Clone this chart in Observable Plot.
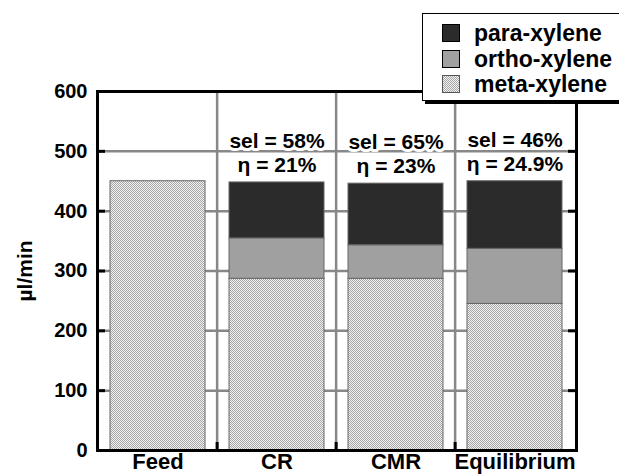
<!DOCTYPE html>
<html>
<head>
<meta charset="utf-8">
<script src="https://cdn.jsdelivr.net/npm/d3@7"></script>
<script src="https://cdn.jsdelivr.net/npm/@observablehq/plot@0.6"></script>
<style>
  html, body { margin: 0; padding: 0; background: #fff; overflow: hidden; }
  #wrap { position: relative; width: 619px; height: 475px; font-family: "Liberation Sans", Arial, sans-serif; font-weight: bold; }
  #legend { position: absolute; left: 422px; top: 13px; width: 210px; height: 88px; background: #fff;
            border: 1px solid #000; box-shadow: 3px 3px 0 #000; box-sizing: border-box; }
  .row { position: absolute; left: 19px; height: 20px; display: flex; align-items: center; }
  .sw { width: 18px; height: 18px; border: 1px solid #000; box-sizing: border-box; margin-right: 14px; flex: none; }
  .lab { font-size: 23px; line-height: 20px; color: #000; white-space: nowrap; }
  .meta { background-color: #eee;
          background-image: repeating-conic-gradient(#a8a8a8 0 25%, #f0f0f0 0 50%);
          background-size: 2px 2px; border-color: #555; }
</style>
</head>
<body>
<div id="wrap"></div>
<script>
// ---- data ----
const categories = ["Feed", "CR", "CMR", "Equilibrium"];
const series = ["meta-xylene", "ortho-xylene", "para-xylene"];
const metaValues = [450, 287, 287, 245];
const orthoValues = [0, 67.5, 56, 92];
const paraValues = [0, 93.5, 103, 113];
const selLabels = ["", "sel = 58%", "sel = 65%", "sel = 46%"];
const etaLabels = ["", "η = 21%", "η = 23%", "η = 24.9%"];
const yTicks = [0, 100, 200, 300, 400, 500, 600];
const yLabel = "µl/min";
const seriesColors = ["url(#metaPat)", "#a0a0a0", "#2b2b2b"];
const legendColors = ["#2b2b2b", "#a0a0a0", "meta"];

// ---- layout ----
const W = 619, H = 475, ML = 97, MR = 43, MT = 91, MB = 25;
const frameW = W - ML - MR, frameH = H - MT - MB;
const step = frameW / categories.length;

const rows = [];
categories.forEach((c, i) => {
  [metaValues[i], orthoValues[i], paraValues[i]].forEach((v, j) => {
    if (v > 0) rows.push({cat: c, series: series[j], value: v});
  });
});
const totals = categories.map((c, i) => ({
  cat: c, total: metaValues[i] + orthoValues[i] + paraValues[i],
  text: selLabels[i] ? selLabels[i] + "\n" + etaLabels[i] : ""
})).filter(d => d.text);

const boundaries = categories.slice(1);

const chart = Plot.plot({
  width: W, height: H,
  marginLeft: ML, marginRight: MR, marginTop: MT, marginBottom: MB,
  style: {fontFamily: "'Liberation Sans', Arial, sans-serif", fontSize: "20px", fontWeight: "bold", color: "#000", background: "#fff"},
  x: {domain: categories, paddingInner: 0.2, paddingOuter: 0.1, label: null},
  y: {domain: [0, 600], label: null},
  color: {domain: series, range: seriesColors},
  marks: [
    Plot.ruleY(yTicks.slice(1, -1), {stroke: "#888", strokeWidth: 2.5}),
    Plot.ruleX(boundaries, {x: d => d, dx: -step / 2, stroke: "#888", strokeWidth: 2.5}),
    Plot.barY(rows, Plot.stackY({x: "cat", y: "value", fill: "series", stroke: "#666", strokeWidth: 1})),
    Plot.ruleX(boundaries, {x: d => d, dx: -step / 2, stroke: "#000", strokeWidth: 3, insetTop: frameH - 8}),
    Plot.ruleY(yTicks.slice(1, -1), {stroke: "#000", strokeWidth: 3, insetRight: frameW - 8}),
    Plot.ruleY(yTicks.slice(1, -1), {stroke: "#000", strokeWidth: 3, insetLeft: frameW - 8}),
    Plot.frame({stroke: "#000", strokeWidth: 3}),
    Plot.text(totals, {x: "cat", y: "total", text: "text", dy: -30, lineAnchor: "middle", lineHeight: 1.15,
      fontSize: 21, fontWeight: "bold", fill: "#000", stroke: "#fff", strokeWidth: 6}),
    Plot.axisY(yTicks, {tickSize: 0, tickPadding: 10, fontSize: 20, fontWeight: "bold", label: null}),
    Plot.text([yLabel], {frameAnchor: "left", textAnchor: "middle", rotate: -90, dx: -72, fontSize: 21, fontWeight: "bold", fill: "#000"}),
    Plot.axisX({tickSize: 0, tickPadding: 3, fontSize: 22, fontWeight: "bold", label: null})
  ]
});

chart.insertAdjacentHTML("afterbegin",
  '<defs><pattern id="metaPat" width="2" height="2" patternUnits="userSpaceOnUse">' +
  '<rect width="2" height="2" fill="#f0f0f0"/><rect width="1" height="1" fill="#a8a8a8"/>' +
  '<rect x="1" y="1" width="1" height="1" fill="#a8a8a8"/></pattern></defs>');

const wrap = document.getElementById("wrap");
wrap.appendChild(chart);

// legend (overlaps the top of the plot frame as in the reference)
const legend = document.createElement("div");
legend.id = "legend";
const legendSeries = series.slice().reverse();
legendSeries.forEach((s, i) => {
  const r = document.createElement("div");
  r.className = "row";
  r.style.top = (9 + i * 25.7) + "px";
  const sw = document.createElement("div");
  sw.className = "sw" + (legendColors[i] === "meta" ? " meta" : "");
  if (legendColors[i] !== "meta") sw.style.background = legendColors[i];
  const lab = document.createElement("span");
  lab.className = "lab";
  lab.textContent = s;
  r.appendChild(sw); r.appendChild(lab);
  legend.appendChild(r);
});
wrap.appendChild(legend);
</script>
</body>
</html>
